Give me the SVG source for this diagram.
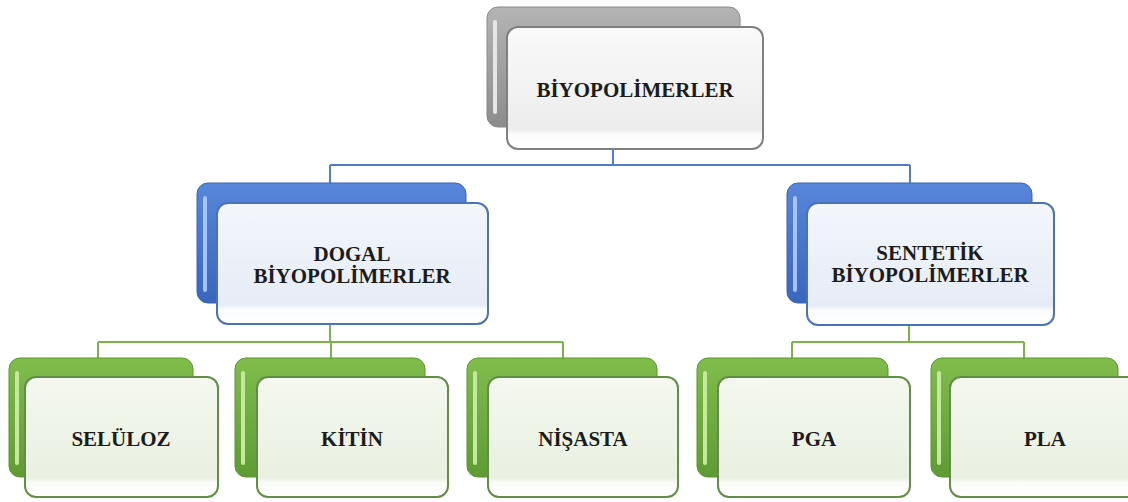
<svg xmlns="http://www.w3.org/2000/svg" width="1128" height="502" viewBox="0 0 1128 502">
<defs>
<linearGradient id="gGray" x1="0" y1="0" x2="0" y2="1"><stop offset="0" stop-color="#b4b4b4"/><stop offset="1" stop-color="#8c8c8c"/></linearGradient>
<linearGradient id="gBlue" x1="0" y1="0" x2="0" y2="1"><stop offset="0" stop-color="#5786da"/><stop offset="1" stop-color="#3a66bb"/></linearGradient>
<linearGradient id="gGreen" x1="0" y1="0" x2="0" y2="1"><stop offset="0" stop-color="#80bd4c"/><stop offset="1" stop-color="#5f9b34"/></linearGradient>
<linearGradient id="fGray" x1="0" y1="0" x2="0" y2="1"><stop offset="0" stop-color="#fafafa"/><stop offset="0.84" stop-color="#ececec"/><stop offset="0.88" stop-color="#fbfbfb"/><stop offset="1" stop-color="#ffffff"/></linearGradient>
<linearGradient id="fBlue" x1="0" y1="0" x2="0" y2="1"><stop offset="0" stop-color="#f3f6fb"/><stop offset="0.84" stop-color="#e6ecf6"/><stop offset="0.88" stop-color="#fafcfe"/><stop offset="1" stop-color="#ffffff"/></linearGradient>
<linearGradient id="fGreen" x1="0" y1="0" x2="0" y2="1"><stop offset="0" stop-color="#f4f8ef"/><stop offset="0.84" stop-color="#e9f0e1"/><stop offset="0.88" stop-color="#fafcf8"/><stop offset="1" stop-color="#ffffff"/></linearGradient>
</defs>
<style>
.back{stroke-width:1}
.gray .back{fill:url(#gGray);stroke:#8a8a8a}
.blue .back{fill:url(#gBlue);stroke:#3a64b4}
.green .back{fill:url(#gGreen);stroke:#5c9433}
.hl{stroke-width:4;stroke-linecap:round;fill:none}
.gray .hl{stroke:#e6e6e6}
.blue .hl{stroke:#a6c3f2}
.green .hl{stroke:#c4e89e}
.front{stroke-width:2}
.gray .front{fill:url(#fGray);stroke:#808080}
.blue .front{fill:url(#fBlue);stroke:#4a72b8}
.green .front{fill:url(#fGreen);stroke:#628d47}
text{font-family:"Liberation Serif","Times New Roman",serif;font-weight:bold;font-size:21px;fill:#1c1c1c;text-anchor:middle}
.conn path{fill:none;stroke-width:2}
.cb{stroke:#4f7ccc}
.cg{stroke:#7ab44a}
</style>
<g class="conn" id="connectors">
<path class="cb" d="M613 149 V165 M330 165 H910 M330 165 V184 M910 165 V184"/>
<path class="cg" d="M330 324 V342 M98 342 H563 M98 342 V358 M331 342 V358 M563 342 V358"/>
<path class="cg" d="M909 325 V342 M792 342 H1024 M792 342 V358 M1024 342 V358"/>
</g>
<g id="n-biyopolimerler" class="gray">
<rect class="back" x="487" y="7" width="253" height="120" rx="11"/>
<path class="hl" d="M495 22 V112"/>
<rect class="front" x="507" y="27" width="256" height="122" rx="11"/>
<text x="635" y="97">BİYOPOLİMERLER</text>
</g>
<g id="n-dogal" class="blue">
<rect class="back" x="197" y="183" width="269" height="120" rx="11"/>
<path class="hl" d="M205 198 V290"/>
<rect class="front" x="217" y="203" width="271" height="121" rx="11"/>
<text x="352" y="261">DOGAL</text>
<text x="352" y="283">BİYOPOLİMERLER</text>
</g>
<g id="n-sentetik" class="blue">
<rect class="back" x="787" y="183" width="245" height="120" rx="11"/>
<path class="hl" d="M795 198 V290"/>
<rect class="front" x="807" y="203" width="247" height="122" rx="11"/>
<text x="930" y="260">SENTETİK</text>
<text x="930" y="282">BİYOPOLİMERLER</text>
</g>
<g id="n-seluloz" class="green">
<rect class="back" x="9" y="358" width="184" height="119" rx="11"/>
<path class="hl" d="M17 373 V463"/>
<rect class="front" x="25" y="377" width="193" height="120" rx="11"/>
<text x="121" y="446">SELÜLOZ</text>
</g>
<g id="n-kitin" class="green">
<rect class="back" x="235" y="358" width="190" height="119" rx="11"/>
<path class="hl" d="M243 373 V463"/>
<rect class="front" x="257" y="377" width="191" height="120" rx="11"/>
<text x="352" y="446">KİTİN</text>
</g>
<g id="n-nisasta" class="green">
<rect class="back" x="467" y="358" width="190" height="119" rx="11"/>
<path class="hl" d="M475 373 V463"/>
<rect class="front" x="488" y="377" width="190" height="120" rx="11"/>
<text x="583" y="446">NİŞASTA</text>
</g>
<g id="n-pga" class="green">
<rect class="back" x="697" y="358" width="191" height="119" rx="11"/>
<path class="hl" d="M705 373 V463"/>
<rect class="front" x="718" y="377" width="192" height="120" rx="11"/>
<text x="814" y="446">PGA</text>
</g>
<g id="n-pla" class="green">
<rect class="back" x="931" y="358" width="187" height="119" rx="11"/>
<path class="hl" d="M939 373 V463"/>
<rect class="front" x="950" y="377" width="192" height="120" rx="11"/>
<text x="1045" y="446">PLA</text>
</g>
</svg>
